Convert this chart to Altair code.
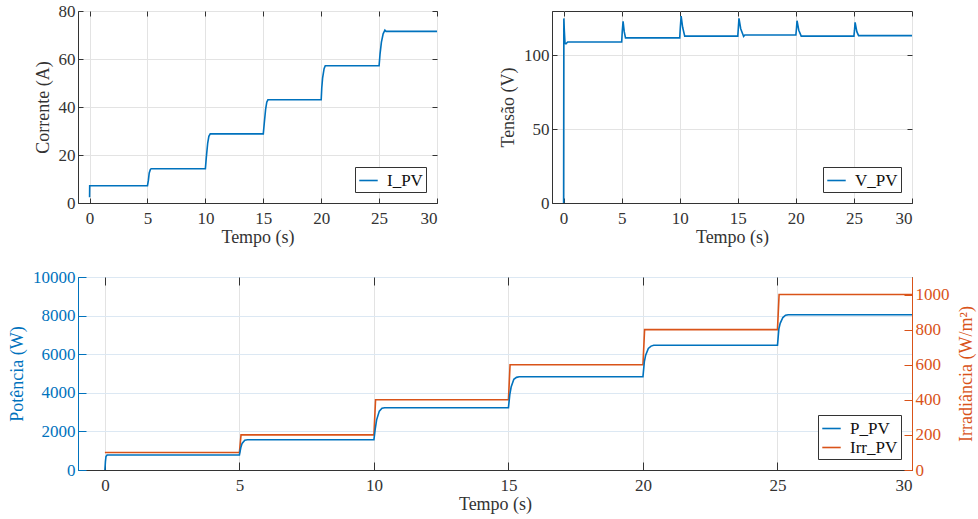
import altair as alt
import pandas as pd

# ---------------- data ----------------
t_I = [0.0, 0.01, 0.05, 5.0, 5.08, 5.15, 5.25, 5.32, 10.0, 10.08, 10.2, 10.3, 10.42,
       15.0, 15.08, 15.2, 15.3, 15.4, 20.0, 20.05, 20.12, 20.25, 20.35,
       25.0, 25.08, 25.2, 25.35, 25.5, 25.6, 30.0]
I_PV = [2.4, 7.2, 7.2, 7.2, 9.5, 12.5, 14.0, 14.3, 14.3, 19.0, 25.0, 27.8, 28.8,
        28.8, 33.0, 39.0, 42.0, 43.0, 43.0, 48.0, 52.0, 56.0, 57.2,
        57.2, 62.0, 67.0, 70.5, 72.0, 71.5, 71.5]

t_V = [0.0, 0.02, 0.06, 0.12, 0.2, 0.35, 5.0, 5.05, 5.12, 5.22, 5.33,
       10.0, 10.05, 10.12, 10.25, 10.43, 15.0, 15.05, 15.1, 15.25, 15.43, 15.5, 15.6,
       20.0, 20.05, 20.1, 20.25, 20.46, 25.0, 25.05, 25.1, 25.25, 25.4, 30.0]
V_PV = [0.0, 125.0, 117.0, 108.0, 107.8, 109.0, 109.0, 116.0, 123.0, 116.0, 111.8,
        111.8, 119.0, 126.6, 119.0, 113.0, 113.0, 119.0, 125.0, 118.0, 114.2, 112.8, 113.7,
        113.7, 118.0, 123.4, 117.0, 113.0, 113.0, 117.0, 122.3, 116.0, 113.3, 113.3]

t_P = [0.0, 0.02, 0.04, 0.08, 0.15, 5.0, 5.05, 5.1, 5.2, 5.3,
       10.0, 10.05, 10.1, 10.2, 10.3, 10.4, 15.0, 15.05, 15.1, 15.2, 15.3, 15.4,
       20.0, 20.05, 20.1, 20.2, 20.3, 20.4, 25.0, 25.05, 25.1, 25.2, 25.3, 25.4, 30.0]
P_PV = [0, 450, 700, 780, 780, 780, 1150, 1380, 1540, 1570,
        1570, 2150, 2600, 3050, 3200, 3228, 3228, 3900, 4300, 4700, 4800, 4834,
        4834, 5600, 5950, 6300, 6420, 6461, 6461, 7300, 7600, 7900, 8020, 8047, 8047]

t_G = [0.0, 5.0, 5.06, 10.0, 10.06, 15.0, 15.06, 20.0, 20.06, 25.0, 25.06, 30.0]
Irr_PV = [100, 100, 200, 200, 400, 400, 600, 600, 800, 800, 1000, 1000]

x_ticks = [0, 5, 10, 15, 20, 25, 30]
yI_ticks = [0, 20, 40, 60, 80]
yV_ticks = [0, 50, 100]
yP_ticks = [0, 2000, 4000, 6000, 8000, 10000]
yG_ticks = [0, 200, 400, 600, 800, 1000]

# ---------------- styling ----------------
FONT = "Liberation Serif"
BLUE = "#0072BD"
ORANGE = "#D95319"
FRAME = "#333333"
TXT = "#333333"
GRID = "#E3E3E3"
GRID_B = "#DCE8F3"
LW = 1.6

x_scale = alt.Scale(domain=[-1, 30], nice=False, zero=False)


def tick_axis(orient, values, size, color=FRAME):
    return alt.Axis(orient=orient, values=values, labels=False, title=None, grid=False,
                    domain=False, ticks=True, tickSize=size, tickColor=color,
                    tickWidth=1, offset=-size)


def x_label_axis():
    return alt.Axis(orient="bottom", values=x_ticks, format="d", title="Tempo (s)",
                    grid=True, gridColor=GRID, domain=True, domainColor=FRAME,
                    ticks=False, labelPadding=7, titlePadding=2)


def legend():
    return alt.Legend(title=None, orient="bottom-right", offset=11, strokeColor=FRAME,
                      fillColor="white", padding=3, symbolType="stroke", symbolSize=340,
                      symbolStrokeWidth=LW, labelFont=FONT, labelFontSize=17,
                      labelColor="#111111", cornerRadius=0, rowPadding=0, labelOffset=8)


def simple_panel(t, v, name, ydom, yticks, ytitle, width):
    df = pd.DataFrame({"t": t, "v": v, "s": name})
    ysc = alt.Scale(domain=ydom, nice=False, zero=False)
    main = alt.Chart(df).mark_line(strokeWidth=LW).encode(
        x=alt.X("t:Q", scale=x_scale, axis=x_label_axis()),
        y=alt.Y("v:Q", scale=ysc, axis=alt.Axis(orient="left", values=yticks, format="d",
                                                title=ytitle, grid=True, gridColor=GRID,
                                                domain=True, domainColor=FRAME, ticks=False,
                                                labelPadding=3, titlePadding=6)),
        color=alt.Color("s:N", scale=alt.Scale(domain=[name], range=[BLUE]), legend=legend()),
    )
    ta = alt.Chart(df).mark_line(strokeOpacity=0).encode(
        x=alt.X("t:Q", scale=x_scale, axis=tick_axis("top", x_ticks, 5)),
        y=alt.Y("v:Q", scale=ysc, axis=tick_axis("right", yticks, 5)),
    )
    tb = alt.Chart(df).mark_line(strokeOpacity=0).encode(
        x=alt.X("t:Q", scale=x_scale, axis=tick_axis("bottom", x_ticks, 5)),
        y=alt.Y("v:Q", scale=ysc, axis=tick_axis("left", yticks, 5)),
    )
    return alt.layer(main, ta, tb).resolve_axis(x="independent", y="independent").properties(
        width=width, height=192)


top_left = simple_panel(t_I, I_PV, "I_PV", [0, 80], yI_ticks, "Corrente (A)", 359)
top_right = simple_panel(t_V, V_PV, "V_PV", [0, 130], yV_ticks, "Tensão (V)", 360)

# ---------------- bottom dual-axis panel ----------------
dfP = pd.DataFrame({"t": t_P, "v": P_PV, "s": "P_PV"})
dfG = pd.DataFrame({"t": t_G, "v": Irr_PV, "s": "Irr_PV"})
color = alt.Color("s:N", scale=alt.Scale(domain=["P_PV", "Irr_PV"], range=[BLUE, ORANGE]),
                  legend=legend())
ysP = alt.Scale(domain=[0, 10000], nice=False, zero=False)
ysG = alt.Scale(domain=[0, 1100], nice=False, zero=False)

lineG = alt.Chart(dfG).mark_line(strokeWidth=LW).encode(
    x=alt.X("t:Q", scale=x_scale, axis=None),
    y=alt.Y("v:Q", scale=ysG, axis=alt.Axis(orient="right", values=yG_ticks, format="d",
                                            title="Irradiância (W/m²)", grid=False,
                                            domain=True, domainColor=ORANGE, ticks=False,
                                            labelColor=ORANGE, titleColor=ORANGE,
                                            titleAngle=270, titleBaseline="top",
                                            labelPadding=3, titlePadding=8)),
    color=color,
)
lineP = alt.Chart(dfP).mark_line(strokeWidth=LW).encode(
    x=alt.X("t:Q", scale=x_scale, axis=x_label_axis()),
    y=alt.Y("v:Q", scale=ysP, axis=alt.Axis(orient="left", values=yP_ticks, format="d",
                                            title="Potência (W)", grid=True, gridColor=GRID_B,
                                            domain=True, domainColor=BLUE, ticks=False,
                                            labelColor=BLUE, titleColor=BLUE,
                                            labelPadding=3, titlePadding=6)),
    color=color,
)
tickP = alt.Chart(dfP).mark_line(strokeOpacity=0).encode(
    x=alt.X("t:Q", scale=x_scale, axis=tick_axis("top", x_ticks, 8)),
    y=alt.Y("v:Q", scale=ysP, axis=tick_axis("left", yP_ticks, 8, BLUE)),
)
tickG = alt.Chart(dfG).mark_line(strokeOpacity=0).encode(
    x=alt.X("t:Q", scale=x_scale, axis=tick_axis("bottom", x_ticks, 8)),
    y=alt.Y("v:Q", scale=ysG, axis=tick_axis("right", yG_ticks, 8, ORANGE)),
)
bottom = alt.layer(lineG, lineP, tickP, tickG).resolve_scale(y="independent").resolve_axis(
    x="independent", y="independent").properties(width=834, height=193)

top_row = alt.hconcat(top_left, top_right, spacing=115, bounds="flush").resolve_scale(
    color="independent")
# with flush bounds the nested row counts as zero height, so the spacing spans
# the top plot height (192) plus the gap (74)
chart = alt.vconcat(top_row, bottom, spacing=266, bounds="flush").resolve_scale(
    color="independent").properties(
    autosize=alt.AutoSizeParams(type="none"),
    padding={"left": 78, "top": 11, "right": 900, "bottom": 508},
    background="white",
).configure_view(stroke=FRAME, strokeWidth=1).configure_axis(
    labelFont=FONT, titleFont=FONT, labelFontSize=17, titleFontSize=18,
    labelColor=TXT, titleColor=TXT, titleFontWeight="normal",
)

chart.save("out.html", embed_options={"renderer": "svg", "actions": False})
